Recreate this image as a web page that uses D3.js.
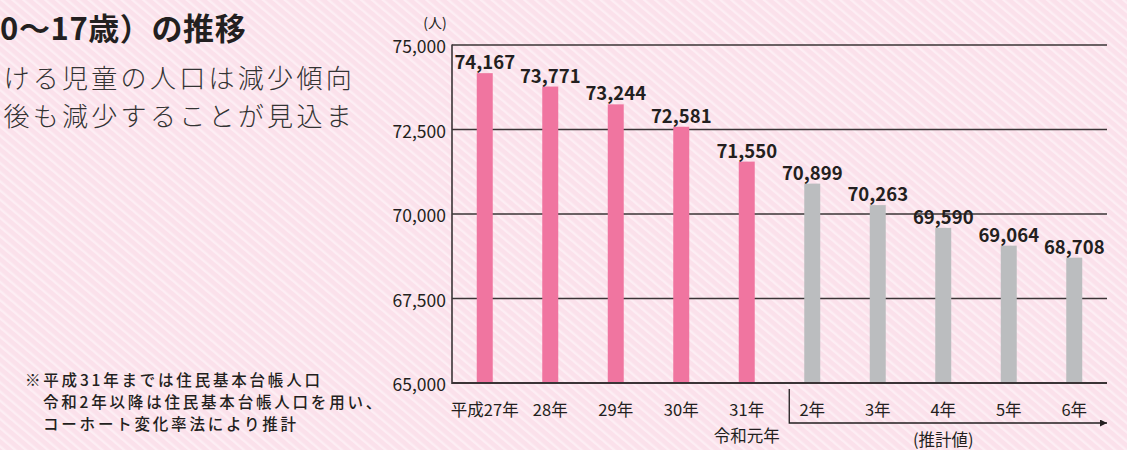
<!DOCTYPE html>
<html>
<head>
<meta charset="utf-8">
<script src="https://cdn.jsdelivr.net/npm/d3@7"></script>
<style>
  body { margin: 0; background: #fbe1eb; }
  svg { display: block; font-family: "Noto Sans CJK JP", "Noto Sans", sans-serif; }
</style>
</head>
<body>
<svg id="chart" width="1127" height="450"></svg>
<script>
// years on the x axis
const years = ['平成27年', '28年', '29年', '30年', '31年', '2年', '3年', '4年', '5年', '6年'];
// child population (0-17)
const population = [74167, 73771, 73244, 72581, 71550, 70899, 70263, 69590, 69064, 68708];
// true = estimated value (grey bar)
const isEstimate = [false, false, false, false, false, true, true, true, true, true];
const yTicks = [65000, 67500, 70000, 72500, 75000];

const noteLines = [
  '※平成31年までは住民基本台帳人口',
  '令和2年以降は住民基本台帳人口を用い、',
  'コーホート変化率法により推計'
];

const opts = {
  left: 452, right: 1107, top: 45, bottom: 383,
  pink: '#f075a0', grey: '#bbbdbf', ink: '#231f20'
};

const svg = d3.select('#chart');

// striped background
const defs = svg.append('defs');
const pat = defs.append('pattern')
  .attr('id', 'stripes')
  .attr('patternUnits', 'userSpaceOnUse')
  .attr('width', 7).attr('height', 7)
  .attr('patternTransform', 'rotate(-50)');
pat.append('rect').attr('width', 7).attr('height', 7).attr('fill', '#fbe1eb');
pat.append('rect').attr('width', 2.4).attr('height', 7).attr('fill', '#fdeef4');

svg.append('rect').attr('width', 1127).attr('height', 450).attr('fill', 'url(#stripes)');

// left side text (cut off in the source)
svg.append('text')
  .attr('x', 0).attr('y', 40)
  .attr('font-size', 31).attr('font-weight', 'bold')
  .attr('letter-spacing', 0.6)
  .attr('fill', opts.ink)
  .text('0～17歳）の推移');

svg.append('g')
  .selectAll('text')
  .data(['ける児童の人口は減少傾向', '後も減少することが見込ま'])
  .join('text')
    .attr('x', 355)
    .attr('y', (d, i) => 88 + i * 38)
    .attr('text-anchor', 'end')
    .attr('font-size', 26).attr('font-weight', 300)
    .attr('letter-spacing', 3.3)
    .attr('fill', '#333')
    .text(d => d);

svg.append('g')
  .selectAll('text')
  .data(noteLines)
  .join('text')
    .attr('x', (d, i) => i === 0 ? 25 : 43)
    .attr('y', (d, i) => 386 + i * 22)
    .attr('font-size', 15.5).attr('font-weight', 500)
    .attr('letter-spacing', 2.8)
    .attr('fill', opts.ink)
    .text(d => d);

// scales
const x = d3.scaleBand()
  .domain(years.map((d, i) => i))
  .range([opts.left, opts.right])
  .paddingInner(0.756)
  .paddingOuter(0.378);

const y = d3.scaleLinear()
  .domain([65000, 75000])
  .range([opts.bottom, opts.top]);

// gridlines
svg.append('g')
  .selectAll('line')
  .data(yTicks.slice(1))
  .join('line')
    .attr('x1', opts.left).attr('x2', opts.right)
    .attr('y1', d => y(d)).attr('y2', d => y(d))
    .attr('stroke', '#3a3436').attr('stroke-width', 1.3);

// y axis labels
svg.append('g')
  .selectAll('text')
  .data(yTicks)
  .join('text')
    .attr('x', opts.left - 6)
    .attr('y', d => y(d) + 8)
    .attr('text-anchor', 'end')
    .attr('font-size', 17.5)
    .attr('fill', opts.ink)
    .text(d => d3.format(',')(d));

svg.append('text')
  .attr('x', 435).attr('y', 28)
  .attr('text-anchor', 'middle')
  .attr('font-size', 14)
  .attr('fill', opts.ink)
  .text('(人)');

// bars
svg.append('g')
  .selectAll('rect')
  .data(population)
  .join('rect')
    .attr('x', (d, i) => x(i))
    .attr('y', d => y(d))
    .attr('width', x.bandwidth())
    .attr('height', d => y(65000) - y(d))
    .attr('fill', (d, i) => isEstimate[i] ? opts.grey : opts.pink);

// value labels
svg.append('g')
  .selectAll('text')
  .data(population)
  .join('text')
    .attr('x', (d, i) => x(i) + x.bandwidth() / 2)
    .attr('y', d => y(d) - 4)
    .attr('text-anchor', 'middle')
    .attr('font-size', 18.5).attr('font-weight', 'bold')
    .attr('fill', opts.ink)
    .text(d => d3.format(',')(d));

// axes lines
svg.append('line')
  .attr('x1', opts.left).attr('x2', opts.left)
  .attr('y1', opts.top - 0.5).attr('y2', opts.bottom + 1)
  .attr('stroke', '#3a3436').attr('stroke-width', 1.6);
svg.append('line')
  .attr('x1', opts.left).attr('x2', opts.right)
  .attr('y1', opts.bottom).attr('y2', opts.bottom)
  .attr('stroke', '#3a3436').attr('stroke-width', 2);

// x labels
svg.append('g')
  .selectAll('text')
  .data(years)
  .join('text')
    .attr('x', (d, i) => x(i) + x.bandwidth() / 2)
    .attr('y', 416)
    .attr('text-anchor', 'middle')
    .attr('font-size', 16.5)
    .attr('fill', opts.ink)
    .text(d => d);

svg.append('text')
  .attr('x', x(4) + x.bandwidth() / 2)
  .attr('y', 442)
  .attr('text-anchor', 'middle')
  .attr('font-size', 16.5)
  .attr('fill', opts.ink)
  .text('令和元年');

// estimate bracket with arrow
const bx = x(5) - 15;
defs.append('marker')
  .attr('id', 'arrow')
  .attr('viewBox', '0 0 10 10')
  .attr('refX', 10).attr('refY', 5)
  .attr('markerWidth', 7).attr('markerHeight', 7)
  .attr('markerUnits', 'userSpaceOnUse')
  .attr('orient', 'auto')
  .append('path').attr('d', 'M0,0L10,5L0,10z').attr('fill', opts.ink);

svg.append('path')
  .attr('d', `M${bx},389V423H${opts.right}`)
  .attr('fill', 'none')
  .attr('stroke', opts.ink).attr('stroke-width', 1.3)
  .attr('marker-end', 'url(#arrow)');

svg.append('text')
  .attr('x', (x(7) + x.bandwidth() / 2))
  .attr('y', 446)
  .attr('text-anchor', 'middle')
  .attr('font-size', 16.5)
  .attr('fill', opts.ink)
  .text('(推計値)');
</script>
</body>
</html>
